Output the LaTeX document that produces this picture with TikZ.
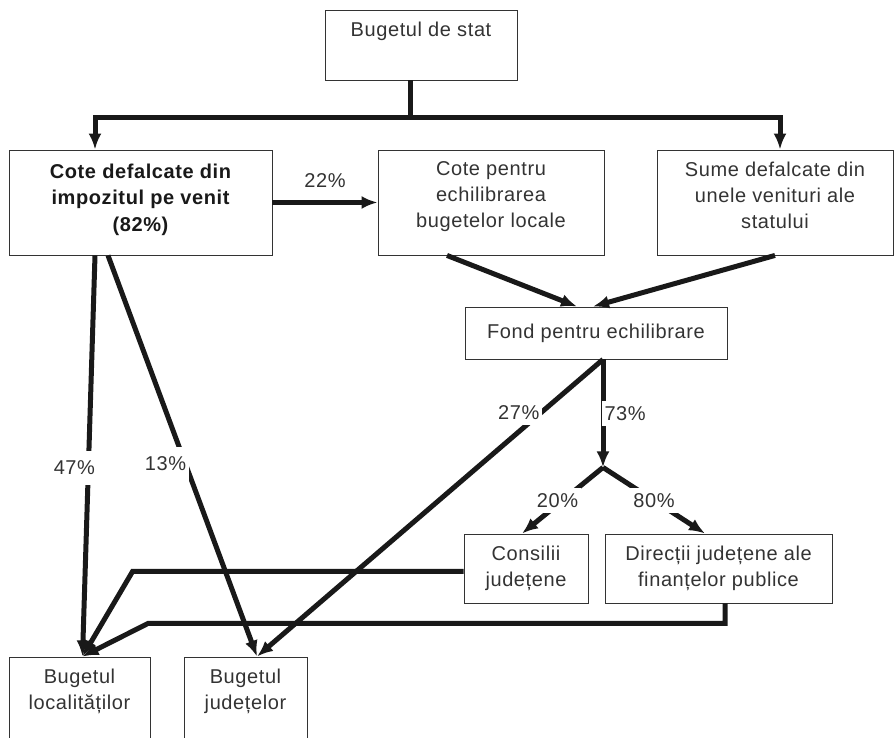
\documentclass[tikz,border=0pt]{standalone}
\usepackage{fontspec}
\setmainfont{Liberation Sans}[LetterSpace=3]
\usetikzlibrary{arrows.meta}
\tikzset{%
  >={Latex[width=13pt,length=16pt]},
  % Specifications for style of boxes, texts and flows:
          box/.style = {rectangle, draw=black!80, line width=0.9pt,
                        text=black!80},
      boxtext/.style = {anchor=north, yshift=-12pt, inner sep=0pt,
                        align=center, text=black!80},
     boldtext/.style = {anchor=north, yshift=-14pt, inner sep=0pt,
                        align=center, text=black!90,
                        font=\fontsize{20}{26.5}\selectfont\bfseries},
         flow/.style = {line width=5pt, draw=black!90},
          pct/.style = {fill=white, inner xsep=3pt, inner ysep=5pt,
                        text=black!80},
}

\begin{document}
\begin{tikzpicture}[x=1pt, y=1pt, node distance=160pt,
    every node/.style={font=\fontsize{20}{26}\selectfont}]
  \useasboundingbox (0,0) rectangle (895,738);
  % Specification of boxes (position, etc.)

  \node (stat)     [box, minimum width=192pt, minimum height=70pt,
                    label={[boxtext]north:Bugetul de stat}] at (421,693) {};
  \node (cote)     [box, below of=stat, xshift=-280.5pt, yshift=2.5pt,
                    minimum width=263pt, minimum height=105pt,
                    label={[boldtext]north:{Cote defalcate din\\impozitul pe venit\\(82\%)}}] {};
  \node (echil)    [box, right of=cote, xshift=190.5pt,
                    minimum width=226pt, minimum height=105pt,
                    label={[boxtext]north:{Cote pentru\\echilibrarea\\bugetelor locale}}] {};
  \node (sume)     [box, right of=echil, xshift=124pt,
                    minimum width=236pt, minimum height=105pt,
                    label={[boxtext]north:{Sume defalcate din\\unele venituri ale\\statului}}] {};
  \node (fond)     [box, below of=echil, xshift=105pt, yshift=29.5pt,
                    minimum width=262pt, minimum height=52pt] {Fond pentru echilibrare};
  \node (consilii) [box, below of=fond, xshift=-70pt, yshift=-75.5pt,
                    minimum width=124pt, minimum height=69pt,
                    label={[boxtext]north:{Consilii\\județene}}] {};
  \node (directii) [box, right of=consilii, xshift=32.5pt,
                    minimum width=227pt, minimum height=69pt,
                    label={[boxtext]north:{Direcții județene ale\\finanțelor publice}}] {};
  \node (loc)      [box, below of=cote, xshift=-61pt, yshift=-339.5pt,
                    minimum width=141pt, minimum height=90pt,
                    label={[boxtext]north:{Bugetul\\localităților}}] {};
  \node (jud)      [box, right of=loc, xshift=6pt,
                    minimum width=123pt, minimum height=90pt,
                    label={[boxtext]north:{Bugetul\\județelor}}] {};

  % flows from the state budget
  \coordinate (trunk) at ([xshift=-11pt, yshift=-37pt]stat.south);
  \draw[flow]     ([xshift=-11pt]stat.south) -- (trunk);
  \draw[flow, ->] (trunk) -| ([xshift=-45.5pt]cote.north);
  \draw[flow, ->] (trunk) -| ([xshift=5pt]sume.north);
  \draw[flow, ->] (cote) -- node[pct, above=7pt] {22\%} (echil);

  % into and out of the fund
  \draw[flow, ->] ([xshift=-44pt]echil.south) -- ([xshift=-19pt]fond.north);
  \draw[flow, ->] (sume.south) -- ([xshift=-3pt]fond.north);
  \coordinate (fork) at ([xshift=7pt, yshift=-108pt]fond.south);
  \draw[flow, ->] ([xshift=7pt]fond.south) -- node[pct, anchor=west, xshift=-4pt] {73\%} (fork);
  \draw[flow, ->] (fork) -- node[pct, xshift=-5pt] {20\%} ([xshift=-4pt]consilii.north);
  \draw[flow, ->] (fork) -- node[pct] {80\%} ([xshift=-13.5pt]directii.north);
  \draw[flow, ->] ([xshift=7pt]fond.south) -- node[pct, pos=0.18, xshift=-22pt] {27\%} ([xshift=11.5pt]jud.north);

  % shares of the income tax
  \draw[flow, ->] ([xshift=-45.5pt]cote.south) -- node[pct, pos=0.53, xshift=-14pt, inner ysep=10pt] {47\%} ([xshift=3pt]loc.north);
  \draw[flow, ->] ([xshift=-32.5pt]cote.south) -- node[pct, pos=0.52, xshift=-20pt, inner ysep=10pt] {13\%} ([xshift=11.5pt]jud.north);

  % county level flows
  \coordinate (bendA) at ([xshift=-331pt, yshift=-3pt]consilii.west);
  \draw[flow, ->] ([yshift=-3pt]consilii.west) -- (bendA) -- ([xshift=3pt]loc.north);
  \coordinate (bendB) at ([xshift=-570.5pt, yshift=-20pt]directii.south);
  \draw[flow, ->] ([xshift=6.5pt]directii.south) |- (bendB) -- ([xshift=3pt]loc.north);

\end{tikzpicture}
\end{document}
